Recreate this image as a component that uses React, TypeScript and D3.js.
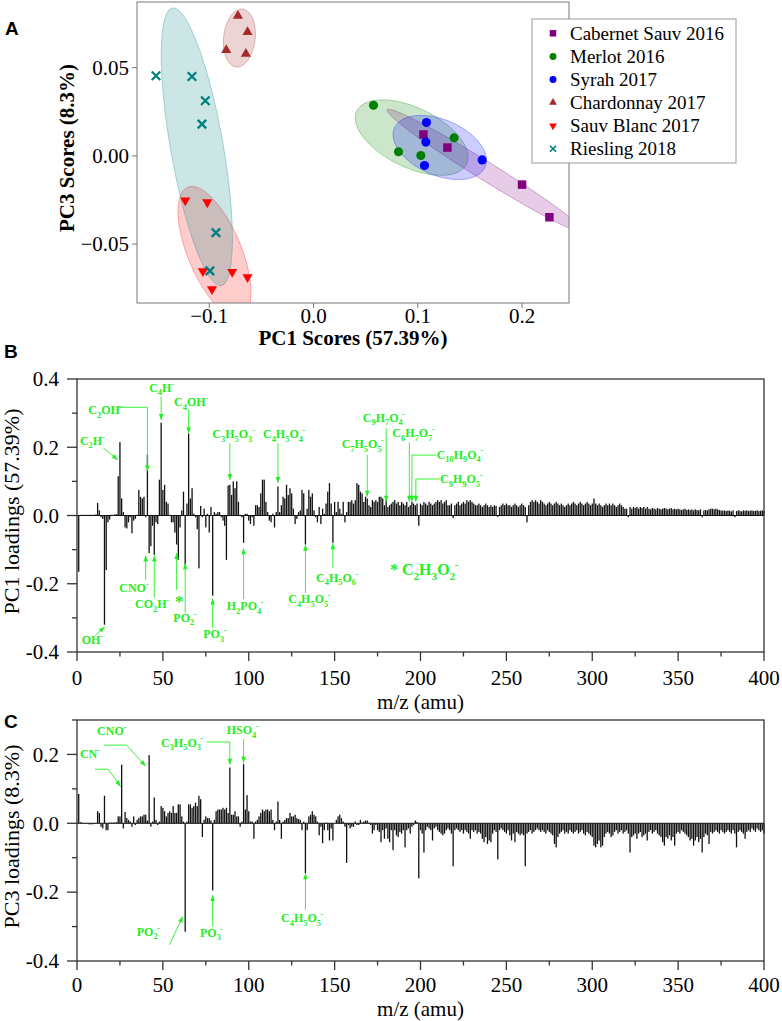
import React from 'react';
import * as d3 from 'd3';

const W = 782, H = 1021;
const SERIF = '"Liberation Serif", "Times New Roman", serif';
const SANS = '"Liberation Sans", Arial, sans-serif';
const GREEN = '#22ee22';

// ---------- Panel A data ----------
const groupNames = ['Cabernet Sauv 2016', 'Merlot 2016', 'Syrah 2017', 'Chardonnay 2017', 'Sauv Blanc 2017', 'Riesling 2018'];
const groupColors = ['#800080', '#008000', '#0000ff', '#a52a2a', '#ff0000', '#008080'];
const groupShapes = ['square', 'circle', 'circle', 'up', 'down', 'x'];
const cabX = [0.1054, 0.1284, 0.2, 0.2262];
const cabY = [0.0121, 0.0047, -0.0163, -0.0348];
const merX = [0.0575, 0.0815, 0.1029, 0.1348];
const merY = [0.0287, 0.0023, 0.0002, 0.0102];
const syrX = [0.1083, 0.1077, 0.1064, 0.1617];
const syrY = [0.0189, 0.0078, -0.0055, -0.0023];
const chaX = [-0.0725, -0.0633, -0.0837, -0.0649];
const chaY = [0.0794, 0.0701, 0.0599, 0.0578];
const sbX = [-0.123, -0.1019, -0.1061, -0.078, -0.0633, -0.0974];
const sbY = [-0.0253, -0.0263, -0.0654, -0.0658, -0.0688, -0.0756];
const rieX = [-0.1511, -0.1166, -0.1038, -0.107, -0.0936, -0.0994];
const rieY = [0.0454, 0.045, 0.0312, 0.018, -0.0435, -0.0652];
const groupXs = [cabX, merX, syrX, chaX, sbX, rieX];
const groupYs = [cabY, merY, syrY, chaY, sbY, rieY];
const aXTicks = [-0.1, 0, 0.1, 0.2];
const aXTickLabels = ['\u22120.1', '0.0', '0.1', '0.2'];
const aYTicks = [-0.05, 0, 0.05];
const aYTickLabels = ['\u22120.05', '0.00', '0.05'];

// ---------- Panel B / C data (m/z 0..400) ----------
const pc1Loadings = [
  0, -0.165, 0.002, 0.002, 0.002, 0.002, 0.002, 0.002, 0.002, 0.002,
  0.002, 0.003, 0.037, 0.015, -0.005, -0.01, -0.32, -0.16, -0.02, -0.012,
  0.002, 0.002, 0.003, 0.004, 0.115, 0.215, 0.05, 0.01, -0.035, -0.038,
  -0.02, -0.005, -0.052, -0.015, -0.01, 0.002, 0.075, 0.055, 0.05, 0.055,
  -0.005, 0.178, -0.11, -0.09, -0.03, -0.115, -0.02, -0.025, 0.105, 0.272,
  0.075, 0.09, 0.04, 0.035, 0.002, -0.02, -0.02, -0.05, -0.085, -0.13,
  -0.035, 0.015, 0.07, -0.145, 0.035, 0.24, 0.05, 0.08, 0.005, -0.005,
  -0.04, -0.155, 0.028, -0.005, 0.02, -0.035, 0.005, -0.05, 0.025, -0.235,
  0.01, 0.005, 0.01, 0.01, -0.005, -0.015, -0.03, -0.13, 0.088, 0.09,
  0.06, 0.1, 0.08, 0.1, 0.04, 0.002, -0.005, -0.08, 0.005, 0.005,
  -0.015, -0.025, -0.005, -0.03, 0.03, 0.03, 0.025, 0.065, 0.105, 0.105,
  0.04, 0.01, -0.015, -0.02, 0.005, -0.035, 0.01, 0.085, 0.01, 0.03,
  0.055, 0.05, 0.09, 0.06, 0.08, 0.065, 0.02, -0.025, -0.01, 0.01,
  0.015, 0.075, 0.065, -0.085, 0.02, 0.075, 0.055, 0.065, 0.015, -0.005,
  -0.02, 0.025, -0.025, 0.02, 0.005, 0.035, 0.07, 0.095, 0.035, -0.08,
  0.04, 0.01, 0.04, 0.02, 0.005, 0.04, -0.02, 0.01, 0.04, 0.04,
  0.045, 0.035, 0.045, 0.095, 0.09, 0.07, 0.065, 0.04, 0.055, 0.05,
  0.03, 0.025, 0.045, 0.04, 0.045, 0.04, 0.055, 0.055, 0.05, 0.03,
  0.045, 0.025, 0.03, 0.035, 0.04, 0.045, 0.035, 0.04, 0.03, 0.04,
  0.035, 0.03, 0.04, 0.025, 0.03, 0.04, 0.035, 0.03, 0.035, -0.03,
  0.035, 0.03, 0.04, 0.035, 0.03, 0.04, 0.035, 0.03, 0.035, 0.04,
  0.045, 0.04, 0.045, 0.035, 0.04, 0.045, 0.03, 0.03, 0.035, -0.008,
  0.03, 0.035, 0.04, 0.03, 0.035, 0.04, 0.035, 0.045, 0.04, 0.045,
  0.04, 0.035, 0.03, 0.03, 0.035, 0.03, 0.025, 0.03, 0.035, 0.03,
  0.025, 0.03, 0.025, 0.03, 0.028, -0.004, 0.025, 0.03, 0.035, 0.03,
  0.035, 0.03, 0.03, 0.025, 0.03, 0.035, 0.03, 0.025, 0.03, 0.035,
  0.03, 0.025, -0.02, 0.03, 0.04, 0.045, 0.04, 0.045, 0.04, 0.035,
  0.045, 0.04, 0.035, 0.03, 0.035, 0.04, 0.035, 0.03, 0.035, 0.04,
  0.035, 0.03, 0.035, 0.03, 0.025, 0.03, 0.035, 0.03, 0.035, 0.04,
  0.035, 0.03, 0.035, 0.04, 0.035, 0.03, 0.035, 0.04, 0.035, 0.03,
  0.035, 0.05, 0.035, 0.03, 0.035, 0.03, 0.025, 0.03, 0.035, 0.03,
  0.035, 0.03, 0.035, 0.03, 0.025, 0.03, 0.035, 0.03, 0.025, 0.02,
  0.02, -0.005, 0.025, 0.02, 0.025, 0.022, 0.025, 0.02, 0.025, 0.022,
  0.025, 0.02, 0.025, 0.02, 0.018, 0.022, 0.02, 0.018, 0.022, 0.02,
  0.018, 0.02, 0.022, 0.02, 0.018, 0.02, 0.022, 0.018, 0.02, 0.018,
  0.02, 0.018, 0.016, 0.018, 0.02, 0.016, 0.018, 0.016, 0.018, 0.015,
  0.018, 0.016, 0.015, 0.018, -0.005, 0.015, 0.016, 0.015, 0.018, 0.02,
  0.02, 0.018, 0.02, 0.018, 0.016, 0.015, 0.014, 0.015, 0.013, 0.015,
  0.014, 0.012, 0.015, -0.005, 0.013, 0.015, 0.014, 0.012, 0.015, 0.014,
  0.015, 0.013, 0.014, 0.015, 0.013, 0.014, 0.015, 0.013, 0.014, 0.015,
  0.014,
];

const pc3Loadings = [
  0, 0.085, 0.003, 0.002, 0.001, 0.001, 0.001, -0.003, -0.003, -0.003,
  0.001, 0.001, 0.035, 0.03, -0.01, -0.015, 0.08, -0.02, -0.02, 0.002,
  0.002, 0.002, 0.002, 0.003, 0.02, 0.02, 0.17, -0.015, 0.033, 0.015,
  0.01, 0.005, -0.01, 0.02, -0.005, 0.01, 0.015, 0.02, 0.02, 0.025,
  0.025, 0.008, 0.198, -0.01, 0.005, 0.075, 0.01, -0.005, 0.005, 0.05,
  0.045, 0.035, 0.02, 0.03, 0.035, 0.03, 0.05, 0.03, 0.03, 0.055,
  0.055, 0.02, 0.005, -0.315, 0.005, 0.055, 0.055, 0.045, 0.05, 0.06,
  0.05, 0.08, 0.07, -0.04, 0.01, 0.02, 0.015, 0.015, 0.008, -0.195,
  0.01, 0.035, 0.04, 0.04, 0.04, 0.045, 0.04, 0.045, 0.03, 0.162,
  0.025, 0.025, 0.035, 0.02, 0.02, -0.01, 0.005, 0.172, 0.04, 0.082,
  0.035, 0.005, 0.005, -0.045, 0.005, 0.01, 0.02, 0.03, 0.04, 0.035,
  0.04, 0.04, 0.035, 0.04, 0.01, -0.02, 0.005, 0.063, 0.01, -0.045,
  0.005, 0.01, 0.015, 0.015, 0.03, 0.02, 0.02, 0.025, 0.015, 0.012,
  0.01, -0.02, 0.005, -0.145, -0.02, 0.02, 0.025, 0.035, 0.025, 0.02,
  0.005, -0.035, -0.01, -0.058, -0.02, 0.002, -0.02, -0.05, -0.015, -0.05,
  0, 0.01, 0.02, 0.025, 0.015, 0.005, -0.01, -0.115, -0.005, -0.015,
  -0.01, -0.01, 0.005, -0.005, -0.005, 0.01, 0.002, 0.005, 0.008, 0.008,
  0.002, -0.005, -0.03, -0.02, -0.005, -0.02, -0.025, -0.055, -0.02, -0.045,
  -0.015, -0.045, -0.055, -0.02, -0.078, -0.02, -0.035, -0.04, -0.025, -0.03,
  -0.02, -0.07, -0.02, -0.015, -0.03, -0.01, -0.005, 0.008, 0.004, -0.16,
  -0.02, -0.03, -0.085, -0.02, -0.01, -0.015, -0.02, -0.05, -0.015, -0.01,
  -0.02, -0.025, -0.03, -0.035, -0.03, -0.02, -0.015, -0.02, -0.03, -0.125,
  -0.02, -0.015, -0.02, -0.025, -0.02, -0.03, -0.02, -0.025, -0.03, -0.045,
  -0.02, -0.025, -0.02, -0.03, -0.025, -0.03, -0.045, -0.055, -0.04, -0.06,
  -0.05, -0.055, -0.03, -0.02, -0.025, -0.105, -0.02, -0.015, -0.02, -0.025,
  -0.03, -0.02, -0.035, -0.05, -0.03, -0.055, -0.025, -0.03, -0.035, -0.03,
  -0.035, -0.125, -0.03, -0.025, -0.02, -0.03, -0.025, -0.02, -0.015, -0.02,
  -0.025, -0.02, -0.025, -0.03, -0.02, -0.025, -0.03, -0.035, -0.06, -0.07,
  -0.04, -0.03, -0.025, -0.02, -0.03, -0.025, -0.03, -0.02, -0.025, -0.03,
  -0.025, -0.02, -0.03, -0.025, -0.02, -0.03, -0.035, -0.025, -0.03, -0.035,
  -0.04, -0.065, -0.07, -0.06, -0.05, -0.07, -0.065, -0.04, -0.03, -0.025,
  -0.03, -0.04, -0.035, -0.025, -0.02, -0.03, -0.025, -0.02, -0.03, -0.025,
  -0.02, -0.03, -0.085, -0.04, -0.035, -0.03, -0.045, -0.03, -0.025, -0.04,
  -0.035, -0.03, -0.05, -0.025, -0.02, -0.03, -0.025, -0.02, -0.03, -0.035,
  -0.04, -0.055, -0.065, -0.04, -0.045, -0.035, -0.05, -0.04, -0.065, -0.03,
  -0.025, -0.03, -0.02, -0.025, -0.03, -0.035, -0.04, -0.05, -0.045, -0.065,
  -0.05, -0.04, -0.055, -0.045, -0.085, -0.04, -0.03, -0.035, -0.06, -0.025,
  -0.03, -0.025, -0.02, -0.025, -0.03, -0.02, -0.025, -0.03, -0.025, -0.02,
  -0.025, -0.03, -0.02, -0.03, -0.07, -0.025, -0.02, -0.025, -0.03, -0.045,
  -0.025, -0.02, -0.025, -0.015, -0.02, -0.025, -0.015, -0.02, -0.025, -0.02,
  -0.03,
];

const mzValues = d3.range(0, 401);
const mzMajorTicks = [0, 50, 100, 150, 200, 250, 300, 350, 400];
const mzMinorTicks = [25, 75, 125, 175, 225, 275, 325, 375];
const bMajorTicks = [-0.4, -0.2, 0, 0.2, 0.4];
const bMajorLabels = ['-0.4', '-0.2', '0.0', '0.2', '0.4'];
const bMinorTicks = [-0.3, -0.1, 0.1, 0.3];
const cMajorTicks = [-0.4, -0.2, 0, 0.2];
const cMajorLabels = ['-0.4', '-0.2', '0.0', '0.2'];
const cMinorTicks = [-0.3, -0.1, 0.1, 0.3];

// annotations: text anchor position and arrow path in (m/z, loading) data units
const bAnnotations = [
  { t: 'C2H-', at: [1.7, 0.207], path: [[15.3, 0.198], [23.8, 0.163]] },
  { t: 'C2OH-', at: [6.6, 0.297], path: [[24.1, 0.317], [41, 0.317], [41, 0.13]] },
  { t: 'C4H-', at: [42, 0.363], path: [[49, 0.349], [49, 0.28]] },
  { t: 'C4OH-', at: [56.5, 0.32], path: [[65, 0.311], [65, 0.24]] },
  { t: 'C3H5O3-', at: [78.8, 0.227], path: [[89, 0.212], [89, 0.104]] },
  { t: 'C4H5O4-', at: [108.3, 0.227], path: [[117, 0.212], [117, 0.095]] },
  { t: 'C7H5O5-', at: [154.1, 0.198], path: [[169, 0.178], [169, 0.055]] },
  { t: 'C9H7O4-', at: [166.4, 0.275], path: [[180, 0.256], [180, 0.04]] },
  { t: 'C6H7O7-', at: [183.6, 0.23], path: [[193.5, 0.214], [193.5, 0.04]] },
  { t: 'C10H9O4-', at: [209.4, 0.167], path: [[209.2, 0.177], [195, 0.177], [195, 0.04]] },
  { t: 'C9H9O5-', at: [211.4, 0.094], path: [[211.2, 0.107], [197.3, 0.107], [197.3, 0.04]] },
  { t: 'CNO-', at: [24.6, -0.223], path: [[40, -0.189], [40, -0.117]] },
  { t: 'CO2H-', at: [33.8, -0.272], path: [[45, -0.241], [45, -0.117]] },
  { t: '', at: [58, 0], path: [[58, -0.218], [58, -0.11]] },
  { t: 'PO2-', at: [56.1, -0.311], path: [[63, -0.286], [63, -0.14]] },
  { t: 'PO3-', at: [73.5, -0.359], path: [[79, -0.33], [79, -0.243]] },
  { t: 'H2PO4-', at: [87.2, -0.278], path: [[97, -0.245], [97, -0.096]] },
  { t: 'C4H5O5-', at: [123, -0.257], path: [[133, -0.227], [133, -0.086]] },
  { t: 'C4H5O6-', at: [139.2, -0.194], path: [[149, -0.154], [149, -0.081]] },
  { t: 'OH-', at: [2.7, -0.378], path: [[10.5, -0.352], [16.1, -0.326]] },
];
const cAnnotations = [
  { t: 'CNO-', at: [11.7, 0.256], path: [[15.7, 0.227], [28.9, 0.227], [40, 0.166]] },
  { t: 'CN-', at: [1.7, 0.189], path: [[10.5, 0.157], [18.2, 0.157], [25.4, 0.107]] },
  { t: 'C3H5O3-', at: [48.9, 0.223], path: [[75.5, 0.236], [89, 0.236], [89, 0.17]] },
  { t: 'HSO4-', at: [87.2, 0.259], path: [[97, 0.245], [97, 0.176]] },
  { t: 'PO2-', at: [34.8, -0.327], path: [[53.8, -0.353], [61.6, -0.271]] },
  { t: 'PO3-', at: [71.6, -0.329], path: [[79, -0.3], [79, -0.208]] },
  { t: 'C4H5O5-', at: [118.8, -0.288], path: [[133, -0.251], [133, -0.145]] },
];

// ---------- helpers ----------
function Formula({ text, x, y, fs, fill = GREEN, weight = 'bold', anchor = 'start' }: any) {
  const segs: { t: string; kind: string }[] = [];
  for (let i = 0; i < text.length; i++) {
    const ch = text[i];
    let kind = 'n';
    if (/[0-9]/.test(ch) && i > 0 && /[A-Za-z0-9]/.test(text[i - 1])) kind = 'sub';
    else if (ch === '-' && i === text.length - 1) kind = 'sup';
    const last = segs[segs.length - 1];
    if (last && last.kind === kind) last.t += ch;
    else segs.push({ t: ch, kind });
  }
  let cur = 0;
  return (
    <text x={x} y={y} fontFamily={SERIF} fontWeight={weight} fontSize={fs} fill={fill} textAnchor={anchor}>
      {segs.map((s, i) => {
        const target = s.kind === 'sub' ? 0.3 * fs : s.kind === 'sup' ? -0.42 * fs : 0;
        const dy = target - cur;
        cur = target;
        const dx = s.kind === 'sup' && i > 0 && segs[i - 1].kind === 'sub' ? -0.05 * fs : 0;
        return (
          <tspan key={i} dy={dy} dx={dx} fontSize={s.kind === 'n' ? fs : fs * 0.7}>
            {s.t}
          </tspan>
        );
      })}
    </text>
  );
}

function Arrow({ pts }: { pts: [number, number][] }) {
  const line = d3.line()(pts) as string;
  const [x1, y1] = pts[pts.length - 2];
  const [x2, y2] = pts[pts.length - 1];
  const ang = Math.atan2(y2 - y1, x2 - x1);
  const L = 6, Wd = 2.3;
  const bx = x2 - L * Math.cos(ang), by = y2 - L * Math.sin(ang);
  const head = `M${x2},${y2}L${bx + Wd * Math.sin(ang)},${by - Wd * Math.cos(ang)}L${bx - Wd * Math.sin(ang)},${by + Wd * Math.cos(ang)}Z`;
  return (
    <g>
      <path d={line} stroke={GREEN} fill="none" strokeWidth={0.9} />
      <path d={head} fill={GREEN} />
    </g>
  );
}

function ellipsePath(xs: number[], ys: number[], k: number, sx: any, sy: any) {
  const n = xs.length;
  const mx = d3.mean(xs) as number, my = d3.mean(ys) as number;
  let sxx = 0, syy = 0, sxy = 0;
  for (let i = 0; i < n; i++) {
    sxx += (xs[i] - mx) ** 2;
    syy += (ys[i] - my) ** 2;
    sxy += (xs[i] - mx) * (ys[i] - my);
  }
  sxx /= n - 1; syy /= n - 1; sxy /= n - 1;
  const a = Math.sqrt(sxx), b = sxy / a, c = Math.sqrt(Math.max(syy - b * b, 0));
  const pts = d3.range(0, 2 * Math.PI, Math.PI / 90).map((t) => [
    sx(mx + k * a * Math.cos(t)),
    sy(my + k * (b * Math.cos(t) + c * Math.sin(t))),
  ]) as [number, number][];
  return d3.line().curve(d3.curveLinearClosed)(pts) as string;
}

function Marker({ shape, x, y, color, s }: any) {
  if (shape === 'x') {
    const h = s * 0.5;
    return <path d={`M${x - h},${y - h}L${x + h},${y + h}M${x - h},${y + h}L${x + h},${y - h}`} stroke={color} strokeWidth={s * 0.27} fill="none" />;
  }
  let sym: any = d3.symbolCircle, size = s * s * 0.9, rot = 0;
  if (shape === 'square') { sym = d3.symbolSquare; size = s * s; }
  if (shape === 'up') { sym = d3.symbolTriangle; size = s * s * 0.62; }
  if (shape === 'down') { sym = d3.symbolTriangle; size = s * s * 0.62; rot = 180; }
  const d = d3.symbol().type(sym).size(size)() as string;
  return <path d={d} fill={color} transform={`translate(${x},${y}) rotate(${rot})`} />;
}

// ---------- Panel A ----------
function PanelA() {
  const L = 137, R = 569, T = 2, B = 303;
  const x = d3.scaleLinear().domain([-0.1693, 0.245]).range([L, R]);
  const y = d3.scaleLinear().domain([-0.0834, 0.0872]).range([B, T]);
  const frame = '#777';
  return (
    <g>
      <defs>
        <clipPath id="clipA"><rect x={L} y={T} width={R - L} height={B - T} /></clipPath>
      </defs>
      <g clipPath="url(#clipA)">
        {groupXs.map((xs, gi) => (
          <path key={gi} d={ellipsePath(xs, groupYs[gi], 1.65, x, y)} fill={groupColors[gi]} fillOpacity={0.2} stroke={groupColors[gi]} strokeOpacity={0.3} strokeWidth={1} />
        ))}
        {groupXs.map((xs, gi) =>
          xs.map((v, i) => <Marker key={gi + '-' + i} shape={groupShapes[gi]} x={x(v)} y={y(groupYs[gi][i])} color={groupColors[gi]} s={8.5} />)
        )}
      </g>
      <rect x={L} y={T} width={R - L} height={B - T} fill="none" stroke={frame} strokeWidth={1} />
      {aXTicks.map((t, i) => (
        <g key={i}>
          <line x1={x(t)} x2={x(t)} y1={B} y2={B + 5} stroke={frame} />
          <text x={x(t)} y={323} textAnchor="middle" fontFamily={SERIF} fontSize={21}>{aXTickLabels[i]}</text>
        </g>
      ))}
      {aYTicks.map((t, i) => (
        <g key={i}>
          <line x1={L - 5} x2={L} y1={y(t)} y2={y(t)} stroke={frame} />
          <text x={129} y={y(t)} dy="0.35em" textAnchor="end" fontFamily={SERIF} fontSize={21}>{aYTickLabels[i]}</text>
        </g>
      ))}
      <text x={353} y={345} textAnchor="middle" fontFamily={SERIF} fontWeight="bold" fontSize={21}>PC1 Scores (57.39%)</text>
      <text transform="translate(74,148) rotate(-90)" textAnchor="middle" fontFamily={SERIF} fontWeight="bold" fontSize={21}>PC3 Scores (8.3%)</text>
      {/* legend */}
      <rect x={532} y={19} width={204} height={144} fill="#fff" stroke="#999" strokeWidth={1} />
      {groupNames.map((g, i) => {
        const cy = 33.3 + i * 23.1;
        return (
          <g key={g}>
            <Marker shape={groupShapes[i]} x={553} y={cy} color={groupColors[i]} s={groupShapes[i] === 'x' ? 6 : 6.5} />
            <text x={570} y={cy} dy="0.33em" fontFamily={SERIF} fontSize={19}>{g}</text>
          </g>
        );
      })}
      <text x={5} y={35} fontFamily={SANS} fontWeight="bold" fontSize={19}>A</text>
    </g>
  );
}

// ---------- Panels B / C ----------
function LoadingsPanel({ values, top, bottom, yDomain, majors, majorLabels, minors, yLabel, annotations, letter, letterY, labelOffset, tickOffset, children }: any) {
  const L = 77, R = 764;
  const x = d3.scaleLinear().domain([0, 400]).range([L, R]);
  const y = d3.scaleLinear().domain(yDomain).range([bottom, top]);
  const frame = '#333';
  const bw = 1.3;
  return (
    <g>
      {mzValues.map((m, i) => {
        const v = values[i];
        if (!v) return null;
        const y0 = y(0), y1 = y(v);
        return <rect key={m} x={x(m) - bw / 2} y={Math.min(y0, y1)} width={bw} height={Math.abs(y1 - y0)} fill="#111" />;
      })}
      <line x1={L} x2={R} y1={y(0)} y2={y(0)} stroke="#111" strokeWidth={1} />
      <rect x={L} y={top} width={R - L} height={bottom - top} fill="none" stroke={frame} strokeWidth={1.3} />
      {mzMajorTicks.map((t) => (
        <g key={t}>
          <line x1={x(t)} x2={x(t)} y1={bottom} y2={bottom + 9} stroke={frame} strokeWidth={1.3} />
          <text x={x(t)} y={bottom + tickOffset} textAnchor="middle" fontFamily={SERIF} fontSize={21}>{t}</text>
        </g>
      ))}
      {mzMinorTicks.map((t) => (
        <line key={t} x1={x(t)} x2={x(t)} y1={bottom} y2={bottom + 4.5} stroke={frame} strokeWidth={1.3} />
      ))}
      {majors.map((t: number, i: number) => (
        <g key={t}>
          <line x1={L - 10} x2={L} y1={y(t)} y2={y(t)} stroke={frame} strokeWidth={1.3} />
          <text x={59} y={y(t)} dy="0.35em" textAnchor="end" fontFamily={SERIF} fontSize={21}>{majorLabels[i]}</text>
        </g>
      ))}
      {minors.map((t: number) => (
        <line key={t} x1={L - 5} x2={L} y1={y(t)} y2={y(t)} stroke={frame} strokeWidth={1.3} />
      ))}
      <text x={(L + R) / 2} y={bottom + labelOffset} textAnchor="middle" fontFamily={SERIF} fontSize={21}>m/z (amu)</text>
      <text transform={`translate(19,${(top + bottom) / 2 - 4}) rotate(-90)`} textAnchor="middle" fontFamily={SERIF} fontSize={22}>{yLabel}</text>
      {annotations.map((a: any, i: number) => (
        <g key={i}>
          <Arrow pts={a.path.map((p: number[]) => [x(p[0]), y(p[1])])} />
          {a.t ? <Formula text={a.t} x={x(a.at[0])} y={y(a.at[1])} fs={12} /> : null}
        </g>
      ))}
      {children ? children(x, y) : null}
      <text x={4} y={letterY} fontFamily={SANS} fontWeight="bold" fontSize={19}>{letter}</text>
    </g>
  );
}

export default function App() {
  return (
    <svg width={W} height={H} viewBox={`0 0 ${W} ${H}`} style={{ position: 'absolute', left: 0, top: 0, background: '#fff' }}>
      <rect x={0} y={0} width={W} height={H} fill="#fff" />
      <PanelA />
      <LoadingsPanel
        values={pc1Loadings}
        top={379}
        bottom={652}
        yDomain={[-0.4, 0.4]}
        majors={bMajorTicks}
        majorLabels={bMajorLabels}
        minors={bMinorTicks}
        yLabel="PC1 loadings (57.39%)"
        annotations={bAnnotations}
        letter="B"
        letterY={358}
        labelOffset={57}
        tickOffset={33}
      >
        {(x: any, y: any) => (
          <g>
            <text x={x(59.6)} y={y(-0.268)} textAnchor="middle" fontFamily={SERIF} fontWeight="bold" fontSize={17} fill={GREEN}>*</text>
            <Formula text="* C2H3O2-" x={x(182.2)} y={y(-0.174)} fs={16} />
          </g>
        )}
      </LoadingsPanel>
      <LoadingsPanel
        values={pc3Loadings}
        top={720}
        bottom={961}
        yDomain={[-0.4, 0.3]}
        majors={cMajorTicks}
        majorLabels={cMajorLabels}
        minors={cMinorTicks}
        yLabel="PC3 loadings (8.3%)"
        annotations={cAnnotations}
        letter="C"
        letterY={728}
        labelOffset={55}
        tickOffset={31}
      />
    </svg>
  );
}
